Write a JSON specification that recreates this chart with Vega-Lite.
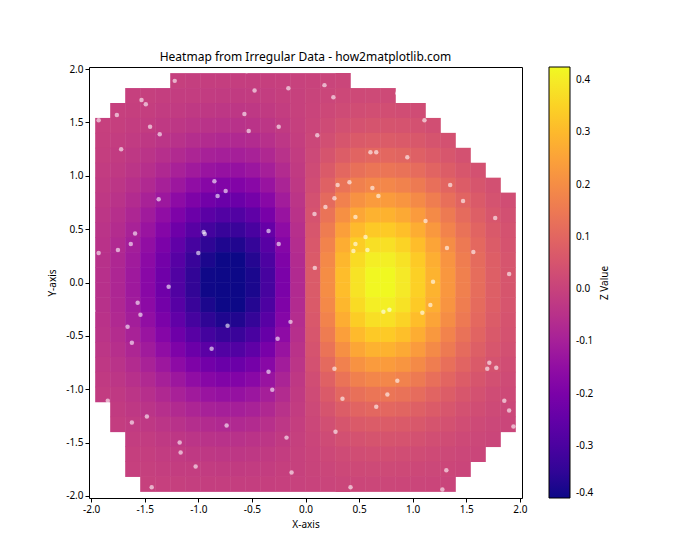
{"$schema":"https://vega.github.io/schema/vega-lite/v6.json","width":433,"height":431,"autosize":{"type":"none"},"padding":{"left":89,"top":67,"right":178,"bottom":62},"background":"white",
"title":{"text":"Heatmap from Irregular Data - how2matplotlib.com","fontSize":12,"fontWeight":"normal","font":"Noto Sans","anchor":"middle","offset":0,"color":"black"},
"config":{"view":{"stroke":"black","strokeWidth":1},"locale":{"number":{"decimal":".","thousands":",","grouping":[3],"currency":["$",""],"minus":"-"}},"axis":{"grid":false,"domain":false,"tickColor":"black","tickSize":4,"labelColor":"black","labelFont":"Noto Sans","labelFontSize":10,"titleFont":"Noto Sans","titleFontSize":10,"titleFontWeight":"normal","titleColor":"black","labelPadding":2},"legend":{"labelFont":"Noto Sans","labelFontSize":10,"labelColor":"black","titleFont":"Noto Sans","titleFontSize":10,"titleFontWeight":"normal","titleColor":"black"}},
"layer":[
{"data":{"values":[
{"x":-1.19,"y":1.89,"z":-0.008},{"x":-1.05,"y":1.89,"z":-0.01},{"x":-0.91,"y":1.89,"z":-0.011},{"x":-0.77,"y":1.89,"z":-0.012},{"x":-0.63,"y":1.89,"z":-0.012},{"x":-0.49,"y":1.89,"z":-0.011},{"x":-0.35,"y":1.89,"z":-0.009},{"x":-0.21,"y":1.89,"z":-0.006},{"x":-0.07,"y":1.89,"z":-0.002},{"x":0.07,"y":1.89,"z":0.002},{"x":0.21,"y":1.89,"z":0.006},{"x":0.35,"y":1.89,"z":0.009},
{"x":-1.61,"y":1.75,"z":-0.006},{"x":-1.47,"y":1.75,"z":-0.008},{"x":-1.33,"y":1.75,"z":-0.011},{"x":-1.19,"y":1.75,"z":-0.014},{"x":-1.05,"y":1.75,"z":-0.016},{"x":-0.91,"y":1.75,"z":-0.019},{"x":-0.77,"y":1.75,"z":-0.02},{"x":-0.63,"y":1.75,"z":-0.02},{"x":-0.49,"y":1.75,"z":-0.018},{"x":-0.35,"y":1.75,"z":-0.015},{"x":-0.21,"y":1.75,"z":-0.009},{"x":-0.07,"y":1.75,"z":-0.003},{"x":0.07,"y":1.75,"z":0.003},{"x":0.21,"y":1.75,"z":0.009},{"x":0.35,"y":1.75,"z":0.015},{"x":0.49,"y":1.75,"z":0.018},{"x":0.63,"y":1.75,"z":0.02},{"x":0.77,"y":1.75,"z":0.02},
{"x":-1.75,"y":1.61,"z":-0.006},{"x":-1.61,"y":1.61,"z":-0.009},{"x":-1.47,"y":1.61,"z":-0.013},{"x":-1.33,"y":1.61,"z":-0.017},{"x":-1.19,"y":1.61,"z":-0.022},{"x":-1.05,"y":1.61,"z":-0.026},{"x":-0.91,"y":1.61,"z":-0.03},{"x":-0.77,"y":1.61,"z":-0.032},{"x":-0.63,"y":1.61,"z":-0.032},{"x":-0.49,"y":1.61,"z":-0.029},{"x":-0.35,"y":1.61,"z":-0.023},{"x":-0.21,"y":1.61,"z":-0.015},{"x":-0.07,"y":1.61,"z":-0.005},{"x":0.07,"y":1.61,"z":0.005},{"x":0.21,"y":1.61,"z":0.015},{"x":0.35,"y":1.61,"z":0.023},{"x":0.49,"y":1.61,"z":0.029},{"x":0.63,"y":1.61,"z":0.032},{"x":0.77,"y":1.61,"z":0.032},{"x":0.91,"y":1.61,"z":0.03},{"x":1.05,"y":1.61,"z":0.026},
{"x":-1.89,"y":1.47,"z":-0.006},{"x":-1.75,"y":1.47,"z":-0.009},{"x":-1.61,"y":1.47,"z":-0.014},{"x":-1.47,"y":1.47,"z":-0.019},{"x":-1.33,"y":1.47,"z":-0.026},{"x":-1.19,"y":1.47,"z":-0.033},{"x":-1.05,"y":1.47,"z":-0.04},{"x":-0.91,"y":1.47,"z":-0.046},{"x":-0.77,"y":1.47,"z":-0.049},{"x":-0.63,"y":1.47,"z":-0.049},{"x":-0.49,"y":1.47,"z":-0.044},{"x":-0.35,"y":1.47,"z":-0.036},{"x":-0.21,"y":1.47,"z":-0.023},{"x":-0.07,"y":1.47,"z":-0.008},{"x":0.07,"y":1.47,"z":0.008},{"x":0.21,"y":1.47,"z":0.023},{"x":0.35,"y":1.47,"z":0.036},{"x":0.49,"y":1.47,"z":0.044},{"x":0.63,"y":1.47,"z":0.049},{"x":0.77,"y":1.47,"z":0.049},{"x":0.91,"y":1.47,"z":0.046},{"x":1.05,"y":1.47,"z":0.04},{"x":1.19,"y":1.47,"z":0.033},
{"x":-1.89,"y":1.33,"z":-0.009},{"x":-1.75,"y":1.33,"z":-0.014},{"x":-1.61,"y":1.33,"z":-0.021},{"x":-1.47,"y":1.33,"z":-0.029},{"x":-1.33,"y":1.33,"z":-0.039},{"x":-1.19,"y":1.33,"z":-0.049},{"x":-1.05,"y":1.33,"z":-0.06},{"x":-0.91,"y":1.33,"z":-0.068},{"x":-0.77,"y":1.33,"z":-0.073},{"x":-0.63,"y":1.33,"z":-0.072},{"x":-0.49,"y":1.33,"z":-0.066},{"x":-0.35,"y":1.33,"z":-0.053},{"x":-0.21,"y":1.33,"z":-0.034},{"x":-0.07,"y":1.33,"z":-0.012},{"x":0.07,"y":1.33,"z":0.012},{"x":0.21,"y":1.33,"z":0.034},{"x":0.35,"y":1.33,"z":0.053},{"x":0.49,"y":1.33,"z":0.066},{"x":0.63,"y":1.33,"z":0.072},{"x":0.77,"y":1.33,"z":0.073},{"x":0.91,"y":1.33,"z":0.068},{"x":1.05,"y":1.33,"z":0.06},{"x":1.19,"y":1.33,"z":0.049},{"x":1.33,"y":1.33,"z":0.039},
{"x":-1.89,"y":1.19,"z":-0.013},{"x":-1.75,"y":1.19,"z":-0.02},{"x":-1.61,"y":1.19,"z":-0.029},{"x":-1.47,"y":1.19,"z":-0.041},{"x":-1.33,"y":1.19,"z":-0.055},{"x":-1.19,"y":1.19,"z":-0.07},{"x":-1.05,"y":1.19,"z":-0.085},{"x":-0.91,"y":1.19,"z":-0.097},{"x":-0.77,"y":1.19,"z":-0.103},{"x":-0.63,"y":1.19,"z":-0.103},{"x":-0.49,"y":1.19,"z":-0.094},{"x":-0.35,"y":1.19,"z":-0.075},{"x":-0.21,"y":1.19,"z":-0.049},{"x":-0.07,"y":1.19,"z":-0.017},{"x":0.07,"y":1.19,"z":0.017},{"x":0.21,"y":1.19,"z":0.049},{"x":0.35,"y":1.19,"z":0.075},{"x":0.49,"y":1.19,"z":0.094},{"x":0.63,"y":1.19,"z":0.103},{"x":0.77,"y":1.19,"z":0.103},{"x":0.91,"y":1.19,"z":0.097},{"x":1.05,"y":1.19,"z":0.085},{"x":1.19,"y":1.19,"z":0.07},{"x":1.33,"y":1.19,"z":0.055},{"x":1.47,"y":1.19,"z":0.041},
{"x":-1.89,"y":1.05,"z":-0.018},{"x":-1.75,"y":1.05,"z":-0.027},{"x":-1.61,"y":1.05,"z":-0.04},{"x":-1.47,"y":1.05,"z":-0.056},{"x":-1.33,"y":1.05,"z":-0.075},{"x":-1.19,"y":1.05,"z":-0.096},{"x":-1.05,"y":1.05,"z":-0.116},{"x":-0.91,"y":1.05,"z":-0.132},{"x":-0.77,"y":1.05,"z":-0.141},{"x":-0.63,"y":1.05,"z":-0.141},{"x":-0.49,"y":1.05,"z":-0.128},{"x":-0.35,"y":1.05,"z":-0.103},{"x":-0.21,"y":1.05,"z":-0.067},{"x":-0.07,"y":1.05,"z":-0.023},{"x":0.07,"y":1.05,"z":0.023},{"x":0.21,"y":1.05,"z":0.067},{"x":0.35,"y":1.05,"z":0.103},{"x":0.49,"y":1.05,"z":0.128},{"x":0.63,"y":1.05,"z":0.141},{"x":0.77,"y":1.05,"z":0.141},{"x":0.91,"y":1.05,"z":0.132},{"x":1.05,"y":1.05,"z":0.116},{"x":1.19,"y":1.05,"z":0.096},{"x":1.33,"y":1.05,"z":0.075},{"x":1.47,"y":1.05,"z":0.056},{"x":1.61,"y":1.05,"z":0.04},
{"x":-1.89,"y":0.91,"z":-0.023},{"x":-1.75,"y":0.91,"z":-0.036},{"x":-1.61,"y":0.91,"z":-0.053},{"x":-1.47,"y":0.91,"z":-0.074},{"x":-1.33,"y":0.91,"z":-0.099},{"x":-1.19,"y":0.91,"z":-0.126},{"x":-1.05,"y":0.91,"z":-0.152},{"x":-0.91,"y":0.91,"z":-0.174},{"x":-0.77,"y":0.91,"z":-0.186},{"x":-0.63,"y":0.91,"z":-0.185},{"x":-0.49,"y":0.91,"z":-0.168},{"x":-0.35,"y":0.91,"z":-0.135},{"x":-0.21,"y":0.91,"z":-0.088},{"x":-0.07,"y":0.91,"z":-0.03},{"x":0.07,"y":0.91,"z":0.03},{"x":0.21,"y":0.91,"z":0.088},{"x":0.35,"y":0.91,"z":0.135},{"x":0.49,"y":0.91,"z":0.168},{"x":0.63,"y":0.91,"z":0.185},{"x":0.77,"y":0.91,"z":0.186},{"x":0.91,"y":0.91,"z":0.174},{"x":1.05,"y":0.91,"z":0.152},{"x":1.19,"y":0.91,"z":0.126},{"x":1.33,"y":0.91,"z":0.099},{"x":1.47,"y":0.91,"z":0.074},{"x":1.61,"y":0.91,"z":0.053},{"x":1.75,"y":0.91,"z":0.036},
{"x":-1.89,"y":0.77,"z":-0.029},{"x":-1.75,"y":0.77,"z":-0.045},{"x":-1.61,"y":0.77,"z":-0.067},{"x":-1.47,"y":0.77,"z":-0.094},{"x":-1.33,"y":0.77,"z":-0.125},{"x":-1.19,"y":0.77,"z":-0.16},{"x":-1.05,"y":0.77,"z":-0.193},{"x":-0.91,"y":0.77,"z":-0.22},{"x":-0.77,"y":0.77,"z":-0.235},{"x":-0.63,"y":0.77,"z":-0.234},{"x":-0.49,"y":0.77,"z":-0.213},{"x":-0.35,"y":0.77,"z":-0.171},{"x":-0.21,"y":0.77,"z":-0.111},{"x":-0.07,"y":0.77,"z":-0.039},{"x":0.07,"y":0.77,"z":0.039},{"x":0.21,"y":0.77,"z":0.111},{"x":0.35,"y":0.77,"z":0.171},{"x":0.49,"y":0.77,"z":0.213},{"x":0.63,"y":0.77,"z":0.234},{"x":0.77,"y":0.77,"z":0.235},{"x":0.91,"y":0.77,"z":0.22},{"x":1.05,"y":0.77,"z":0.193},{"x":1.19,"y":0.77,"z":0.16},{"x":1.33,"y":0.77,"z":0.125},{"x":1.47,"y":0.77,"z":0.094},{"x":1.61,"y":0.77,"z":0.067},{"x":1.75,"y":0.77,"z":0.045},{"x":1.89,"y":0.77,"z":0.029},
{"x":-1.89,"y":0.63,"z":-0.036},{"x":-1.75,"y":0.63,"z":-0.055},{"x":-1.61,"y":0.63,"z":-0.081},{"x":-1.47,"y":0.63,"z":-0.114},{"x":-1.33,"y":0.63,"z":-0.152},{"x":-1.19,"y":0.63,"z":-0.194},{"x":-1.05,"y":0.63,"z":-0.234},{"x":-0.91,"y":0.63,"z":-0.267},{"x":-0.77,"y":0.63,"z":-0.286},{"x":-0.63,"y":0.63,"z":-0.285},{"x":-0.49,"y":0.63,"z":-0.259},{"x":-0.35,"y":0.63,"z":-0.208},{"x":-0.21,"y":0.63,"z":-0.135},{"x":-0.07,"y":0.63,"z":-0.047},{"x":0.07,"y":0.63,"z":0.047},{"x":0.21,"y":0.63,"z":0.135},{"x":0.35,"y":0.63,"z":0.208},{"x":0.49,"y":0.63,"z":0.259},{"x":0.63,"y":0.63,"z":0.285},{"x":0.77,"y":0.63,"z":0.286},{"x":0.91,"y":0.63,"z":0.267},{"x":1.05,"y":0.63,"z":0.234},{"x":1.19,"y":0.63,"z":0.194},{"x":1.33,"y":0.63,"z":0.152},{"x":1.47,"y":0.63,"z":0.114},{"x":1.61,"y":0.63,"z":0.081},{"x":1.75,"y":0.63,"z":0.055},{"x":1.89,"y":0.63,"z":0.036},
{"x":-1.89,"y":0.49,"z":-0.042},{"x":-1.75,"y":0.49,"z":-0.064},{"x":-1.61,"y":0.49,"z":-0.095},{"x":-1.47,"y":0.49,"z":-0.133},{"x":-1.33,"y":0.49,"z":-0.178},{"x":-1.19,"y":0.49,"z":-0.227},{"x":-1.05,"y":0.49,"z":-0.274},{"x":-0.91,"y":0.49,"z":-0.313},{"x":-0.77,"y":0.49,"z":-0.335},{"x":-0.63,"y":0.49,"z":-0.333},{"x":-0.49,"y":0.49,"z":-0.303},{"x":-0.35,"y":0.49,"z":-0.244},{"x":-0.21,"y":0.49,"z":-0.158},{"x":-0.07,"y":0.49,"z":-0.055},{"x":0.07,"y":0.49,"z":0.055},{"x":0.21,"y":0.49,"z":0.158},{"x":0.35,"y":0.49,"z":0.244},{"x":0.49,"y":0.49,"z":0.303},{"x":0.63,"y":0.49,"z":0.333},{"x":0.77,"y":0.49,"z":0.335},{"x":0.91,"y":0.49,"z":0.313},{"x":1.05,"y":0.49,"z":0.274},{"x":1.19,"y":0.49,"z":0.227},{"x":1.33,"y":0.49,"z":0.178},{"x":1.47,"y":0.49,"z":0.133},{"x":1.61,"y":0.49,"z":0.095},{"x":1.75,"y":0.49,"z":0.064},{"x":1.89,"y":0.49,"z":0.042},
{"x":-1.89,"y":0.35,"z":-0.047},{"x":-1.75,"y":0.35,"z":-0.072},{"x":-1.61,"y":0.35,"z":-0.107},{"x":-1.47,"y":0.35,"z":-0.15},{"x":-1.33,"y":0.35,"z":-0.201},{"x":-1.19,"y":0.35,"z":-0.255},{"x":-1.05,"y":0.35,"z":-0.309},{"x":-0.91,"y":0.35,"z":-0.352},{"x":-0.77,"y":0.35,"z":-0.377},{"x":-0.63,"y":0.35,"z":-0.375},{"x":-0.49,"y":0.35,"z":-0.341},{"x":-0.35,"y":0.35,"z":-0.274},{"x":-0.21,"y":0.35,"z":-0.178},{"x":-0.07,"y":0.35,"z":-0.062},{"x":0.07,"y":0.35,"z":0.062},{"x":0.21,"y":0.35,"z":0.178},{"x":0.35,"y":0.35,"z":0.274},{"x":0.49,"y":0.35,"z":0.341},{"x":0.63,"y":0.35,"z":0.375},{"x":0.77,"y":0.35,"z":0.377},{"x":0.91,"y":0.35,"z":0.352},{"x":1.05,"y":0.35,"z":0.309},{"x":1.19,"y":0.35,"z":0.255},{"x":1.33,"y":0.35,"z":0.201},{"x":1.47,"y":0.35,"z":0.15},{"x":1.61,"y":0.35,"z":0.107},{"x":1.75,"y":0.35,"z":0.072},{"x":1.89,"y":0.35,"z":0.047},
{"x":-1.89,"y":0.21,"z":-0.051},{"x":-1.75,"y":0.21,"z":-0.078},{"x":-1.61,"y":0.21,"z":-0.115},{"x":-1.47,"y":0.21,"z":-0.162},{"x":-1.33,"y":0.21,"z":-0.217},{"x":-1.19,"y":0.21,"z":-0.276},{"x":-1.05,"y":0.21,"z":-0.334},{"x":-0.91,"y":0.21,"z":-0.381},{"x":-0.77,"y":0.21,"z":-0.407},{"x":-0.63,"y":0.21,"z":-0.405},{"x":-0.49,"y":0.21,"z":-0.369},{"x":-0.35,"y":0.21,"z":-0.296},{"x":-0.21,"y":0.21,"z":-0.192},{"x":-0.07,"y":0.21,"z":-0.067},{"x":0.07,"y":0.21,"z":0.067},{"x":0.21,"y":0.21,"z":0.192},{"x":0.35,"y":0.21,"z":0.296},{"x":0.49,"y":0.21,"z":0.369},{"x":0.63,"y":0.21,"z":0.405},{"x":0.77,"y":0.21,"z":0.407},{"x":0.91,"y":0.21,"z":0.381},{"x":1.05,"y":0.21,"z":0.334},{"x":1.19,"y":0.21,"z":0.276},{"x":1.33,"y":0.21,"z":0.217},{"x":1.47,"y":0.21,"z":0.162},{"x":1.61,"y":0.21,"z":0.115},{"x":1.75,"y":0.21,"z":0.078},{"x":1.89,"y":0.21,"z":0.051},
{"x":-1.89,"y":0.07,"z":-0.053},{"x":-1.75,"y":0.07,"z":-0.081},{"x":-1.61,"y":0.07,"z":-0.12},{"x":-1.47,"y":0.07,"z":-0.169},{"x":-1.33,"y":0.07,"z":-0.226},{"x":-1.19,"y":0.07,"z":-0.287},{"x":-1.05,"y":0.07,"z":-0.347},{"x":-0.91,"y":0.07,"z":-0.396},{"x":-0.77,"y":0.07,"z":-0.423},{"x":-0.63,"y":0.07,"z":-0.421},{"x":-0.49,"y":0.07,"z":-0.383},{"x":-0.35,"y":0.07,"z":-0.308},{"x":-0.21,"y":0.07,"z":-0.2},{"x":-0.07,"y":0.07,"z":-0.069},{"x":0.07,"y":0.07,"z":0.069},{"x":0.21,"y":0.07,"z":0.2},{"x":0.35,"y":0.07,"z":0.308},{"x":0.49,"y":0.07,"z":0.383},{"x":0.63,"y":0.07,"z":0.421},{"x":0.77,"y":0.07,"z":0.423},{"x":0.91,"y":0.07,"z":0.396},{"x":1.05,"y":0.07,"z":0.347},{"x":1.19,"y":0.07,"z":0.287},{"x":1.33,"y":0.07,"z":0.226},{"x":1.47,"y":0.07,"z":0.169},{"x":1.61,"y":0.07,"z":0.12},{"x":1.75,"y":0.07,"z":0.081},{"x":1.89,"y":0.07,"z":0.053},
{"x":-1.89,"y":-0.07,"z":-0.053},{"x":-1.75,"y":-0.07,"z":-0.081},{"x":-1.61,"y":-0.07,"z":-0.12},{"x":-1.47,"y":-0.07,"z":-0.169},{"x":-1.33,"y":-0.07,"z":-0.226},{"x":-1.19,"y":-0.07,"z":-0.287},{"x":-1.05,"y":-0.07,"z":-0.347},{"x":-0.91,"y":-0.07,"z":-0.396},{"x":-0.77,"y":-0.07,"z":-0.423},{"x":-0.63,"y":-0.07,"z":-0.421},{"x":-0.49,"y":-0.07,"z":-0.383},{"x":-0.35,"y":-0.07,"z":-0.308},{"x":-0.21,"y":-0.07,"z":-0.2},{"x":-0.07,"y":-0.07,"z":-0.069},{"x":0.07,"y":-0.07,"z":0.069},{"x":0.21,"y":-0.07,"z":0.2},{"x":0.35,"y":-0.07,"z":0.308},{"x":0.49,"y":-0.07,"z":0.383},{"x":0.63,"y":-0.07,"z":0.421},{"x":0.77,"y":-0.07,"z":0.423},{"x":0.91,"y":-0.07,"z":0.396},{"x":1.05,"y":-0.07,"z":0.347},{"x":1.19,"y":-0.07,"z":0.287},{"x":1.33,"y":-0.07,"z":0.226},{"x":1.47,"y":-0.07,"z":0.169},{"x":1.61,"y":-0.07,"z":0.12},{"x":1.75,"y":-0.07,"z":0.081},{"x":1.89,"y":-0.07,"z":0.053},
{"x":-1.89,"y":-0.21,"z":-0.051},{"x":-1.75,"y":-0.21,"z":-0.078},{"x":-1.61,"y":-0.21,"z":-0.115},{"x":-1.47,"y":-0.21,"z":-0.162},{"x":-1.33,"y":-0.21,"z":-0.217},{"x":-1.19,"y":-0.21,"z":-0.276},{"x":-1.05,"y":-0.21,"z":-0.334},{"x":-0.91,"y":-0.21,"z":-0.381},{"x":-0.77,"y":-0.21,"z":-0.407},{"x":-0.63,"y":-0.21,"z":-0.405},{"x":-0.49,"y":-0.21,"z":-0.369},{"x":-0.35,"y":-0.21,"z":-0.296},{"x":-0.21,"y":-0.21,"z":-0.192},{"x":-0.07,"y":-0.21,"z":-0.067},{"x":0.07,"y":-0.21,"z":0.067},{"x":0.21,"y":-0.21,"z":0.192},{"x":0.35,"y":-0.21,"z":0.296},{"x":0.49,"y":-0.21,"z":0.369},{"x":0.63,"y":-0.21,"z":0.405},{"x":0.77,"y":-0.21,"z":0.407},{"x":0.91,"y":-0.21,"z":0.381},{"x":1.05,"y":-0.21,"z":0.334},{"x":1.19,"y":-0.21,"z":0.276},{"x":1.33,"y":-0.21,"z":0.217},{"x":1.47,"y":-0.21,"z":0.162},{"x":1.61,"y":-0.21,"z":0.115},{"x":1.75,"y":-0.21,"z":0.078},{"x":1.89,"y":-0.21,"z":0.051},
{"x":-1.89,"y":-0.35,"z":-0.047},{"x":-1.75,"y":-0.35,"z":-0.072},{"x":-1.61,"y":-0.35,"z":-0.107},{"x":-1.47,"y":-0.35,"z":-0.15},{"x":-1.33,"y":-0.35,"z":-0.201},{"x":-1.19,"y":-0.35,"z":-0.255},{"x":-1.05,"y":-0.35,"z":-0.309},{"x":-0.91,"y":-0.35,"z":-0.352},{"x":-0.77,"y":-0.35,"z":-0.377},{"x":-0.63,"y":-0.35,"z":-0.375},{"x":-0.49,"y":-0.35,"z":-0.341},{"x":-0.35,"y":-0.35,"z":-0.274},{"x":-0.21,"y":-0.35,"z":-0.178},{"x":-0.07,"y":-0.35,"z":-0.062},{"x":0.07,"y":-0.35,"z":0.062},{"x":0.21,"y":-0.35,"z":0.178},{"x":0.35,"y":-0.35,"z":0.274},{"x":0.49,"y":-0.35,"z":0.341},{"x":0.63,"y":-0.35,"z":0.375},{"x":0.77,"y":-0.35,"z":0.377},{"x":0.91,"y":-0.35,"z":0.352},{"x":1.05,"y":-0.35,"z":0.309},{"x":1.19,"y":-0.35,"z":0.255},{"x":1.33,"y":-0.35,"z":0.201},{"x":1.47,"y":-0.35,"z":0.15},{"x":1.61,"y":-0.35,"z":0.107},{"x":1.75,"y":-0.35,"z":0.072},{"x":1.89,"y":-0.35,"z":0.047},
{"x":-1.89,"y":-0.49,"z":-0.042},{"x":-1.75,"y":-0.49,"z":-0.064},{"x":-1.61,"y":-0.49,"z":-0.095},{"x":-1.47,"y":-0.49,"z":-0.133},{"x":-1.33,"y":-0.49,"z":-0.178},{"x":-1.19,"y":-0.49,"z":-0.227},{"x":-1.05,"y":-0.49,"z":-0.274},{"x":-0.91,"y":-0.49,"z":-0.313},{"x":-0.77,"y":-0.49,"z":-0.335},{"x":-0.63,"y":-0.49,"z":-0.333},{"x":-0.49,"y":-0.49,"z":-0.303},{"x":-0.35,"y":-0.49,"z":-0.244},{"x":-0.21,"y":-0.49,"z":-0.158},{"x":-0.07,"y":-0.49,"z":-0.055},{"x":0.07,"y":-0.49,"z":0.055},{"x":0.21,"y":-0.49,"z":0.158},{"x":0.35,"y":-0.49,"z":0.244},{"x":0.49,"y":-0.49,"z":0.303},{"x":0.63,"y":-0.49,"z":0.333},{"x":0.77,"y":-0.49,"z":0.335},{"x":0.91,"y":-0.49,"z":0.313},{"x":1.05,"y":-0.49,"z":0.274},{"x":1.19,"y":-0.49,"z":0.227},{"x":1.33,"y":-0.49,"z":0.178},{"x":1.47,"y":-0.49,"z":0.133},{"x":1.61,"y":-0.49,"z":0.095},{"x":1.75,"y":-0.49,"z":0.064},{"x":1.89,"y":-0.49,"z":0.042},
{"x":-1.89,"y":-0.63,"z":-0.036},{"x":-1.75,"y":-0.63,"z":-0.055},{"x":-1.61,"y":-0.63,"z":-0.081},{"x":-1.47,"y":-0.63,"z":-0.114},{"x":-1.33,"y":-0.63,"z":-0.152},{"x":-1.19,"y":-0.63,"z":-0.194},{"x":-1.05,"y":-0.63,"z":-0.234},{"x":-0.91,"y":-0.63,"z":-0.267},{"x":-0.77,"y":-0.63,"z":-0.286},{"x":-0.63,"y":-0.63,"z":-0.285},{"x":-0.49,"y":-0.63,"z":-0.259},{"x":-0.35,"y":-0.63,"z":-0.208},{"x":-0.21,"y":-0.63,"z":-0.135},{"x":-0.07,"y":-0.63,"z":-0.047},{"x":0.07,"y":-0.63,"z":0.047},{"x":0.21,"y":-0.63,"z":0.135},{"x":0.35,"y":-0.63,"z":0.208},{"x":0.49,"y":-0.63,"z":0.259},{"x":0.63,"y":-0.63,"z":0.285},{"x":0.77,"y":-0.63,"z":0.286},{"x":0.91,"y":-0.63,"z":0.267},{"x":1.05,"y":-0.63,"z":0.234},{"x":1.19,"y":-0.63,"z":0.194},{"x":1.33,"y":-0.63,"z":0.152},{"x":1.47,"y":-0.63,"z":0.114},{"x":1.61,"y":-0.63,"z":0.081},{"x":1.75,"y":-0.63,"z":0.055},{"x":1.89,"y":-0.63,"z":0.036},
{"x":-1.89,"y":-0.77,"z":-0.029},{"x":-1.75,"y":-0.77,"z":-0.045},{"x":-1.61,"y":-0.77,"z":-0.067},{"x":-1.47,"y":-0.77,"z":-0.094},{"x":-1.33,"y":-0.77,"z":-0.125},{"x":-1.19,"y":-0.77,"z":-0.16},{"x":-1.05,"y":-0.77,"z":-0.193},{"x":-0.91,"y":-0.77,"z":-0.22},{"x":-0.77,"y":-0.77,"z":-0.235},{"x":-0.63,"y":-0.77,"z":-0.234},{"x":-0.49,"y":-0.77,"z":-0.213},{"x":-0.35,"y":-0.77,"z":-0.171},{"x":-0.21,"y":-0.77,"z":-0.111},{"x":-0.07,"y":-0.77,"z":-0.039},{"x":0.07,"y":-0.77,"z":0.039},{"x":0.21,"y":-0.77,"z":0.111},{"x":0.35,"y":-0.77,"z":0.171},{"x":0.49,"y":-0.77,"z":0.213},{"x":0.63,"y":-0.77,"z":0.234},{"x":0.77,"y":-0.77,"z":0.235},{"x":0.91,"y":-0.77,"z":0.22},{"x":1.05,"y":-0.77,"z":0.193},{"x":1.19,"y":-0.77,"z":0.16},{"x":1.33,"y":-0.77,"z":0.125},{"x":1.47,"y":-0.77,"z":0.094},{"x":1.61,"y":-0.77,"z":0.067},{"x":1.75,"y":-0.77,"z":0.045},{"x":1.89,"y":-0.77,"z":0.029},
{"x":-1.89,"y":-0.91,"z":-0.023},{"x":-1.75,"y":-0.91,"z":-0.036},{"x":-1.61,"y":-0.91,"z":-0.053},{"x":-1.47,"y":-0.91,"z":-0.074},{"x":-1.33,"y":-0.91,"z":-0.099},{"x":-1.19,"y":-0.91,"z":-0.126},{"x":-1.05,"y":-0.91,"z":-0.152},{"x":-0.91,"y":-0.91,"z":-0.174},{"x":-0.77,"y":-0.91,"z":-0.186},{"x":-0.63,"y":-0.91,"z":-0.185},{"x":-0.49,"y":-0.91,"z":-0.168},{"x":-0.35,"y":-0.91,"z":-0.135},{"x":-0.21,"y":-0.91,"z":-0.088},{"x":-0.07,"y":-0.91,"z":-0.03},{"x":0.07,"y":-0.91,"z":0.03},{"x":0.21,"y":-0.91,"z":0.088},{"x":0.35,"y":-0.91,"z":0.135},{"x":0.49,"y":-0.91,"z":0.168},{"x":0.63,"y":-0.91,"z":0.185},{"x":0.77,"y":-0.91,"z":0.186},{"x":0.91,"y":-0.91,"z":0.174},{"x":1.05,"y":-0.91,"z":0.152},{"x":1.19,"y":-0.91,"z":0.126},{"x":1.33,"y":-0.91,"z":0.099},{"x":1.47,"y":-0.91,"z":0.074},{"x":1.61,"y":-0.91,"z":0.053},{"x":1.75,"y":-0.91,"z":0.036},{"x":1.89,"y":-0.91,"z":0.023},
{"x":-1.89,"y":-1.05,"z":-0.018},{"x":-1.75,"y":-1.05,"z":-0.027},{"x":-1.61,"y":-1.05,"z":-0.04},{"x":-1.47,"y":-1.05,"z":-0.056},{"x":-1.33,"y":-1.05,"z":-0.075},{"x":-1.19,"y":-1.05,"z":-0.096},{"x":-1.05,"y":-1.05,"z":-0.116},{"x":-0.91,"y":-1.05,"z":-0.132},{"x":-0.77,"y":-1.05,"z":-0.141},{"x":-0.63,"y":-1.05,"z":-0.141},{"x":-0.49,"y":-1.05,"z":-0.128},{"x":-0.35,"y":-1.05,"z":-0.103},{"x":-0.21,"y":-1.05,"z":-0.067},{"x":-0.07,"y":-1.05,"z":-0.023},{"x":0.07,"y":-1.05,"z":0.023},{"x":0.21,"y":-1.05,"z":0.067},{"x":0.35,"y":-1.05,"z":0.103},{"x":0.49,"y":-1.05,"z":0.128},{"x":0.63,"y":-1.05,"z":0.141},{"x":0.77,"y":-1.05,"z":0.141},{"x":0.91,"y":-1.05,"z":0.132},{"x":1.05,"y":-1.05,"z":0.116},{"x":1.19,"y":-1.05,"z":0.096},{"x":1.33,"y":-1.05,"z":0.075},{"x":1.47,"y":-1.05,"z":0.056},{"x":1.61,"y":-1.05,"z":0.04},{"x":1.75,"y":-1.05,"z":0.027},{"x":1.89,"y":-1.05,"z":0.018},
{"x":-1.75,"y":-1.19,"z":-0.02},{"x":-1.61,"y":-1.19,"z":-0.029},{"x":-1.47,"y":-1.19,"z":-0.041},{"x":-1.33,"y":-1.19,"z":-0.055},{"x":-1.19,"y":-1.19,"z":-0.07},{"x":-1.05,"y":-1.19,"z":-0.085},{"x":-0.91,"y":-1.19,"z":-0.097},{"x":-0.77,"y":-1.19,"z":-0.103},{"x":-0.63,"y":-1.19,"z":-0.103},{"x":-0.49,"y":-1.19,"z":-0.094},{"x":-0.35,"y":-1.19,"z":-0.075},{"x":-0.21,"y":-1.19,"z":-0.049},{"x":-0.07,"y":-1.19,"z":-0.017},{"x":0.07,"y":-1.19,"z":0.017},{"x":0.21,"y":-1.19,"z":0.049},{"x":0.35,"y":-1.19,"z":0.075},{"x":0.49,"y":-1.19,"z":0.094},{"x":0.63,"y":-1.19,"z":0.103},{"x":0.77,"y":-1.19,"z":0.103},{"x":0.91,"y":-1.19,"z":0.097},{"x":1.05,"y":-1.19,"z":0.085},{"x":1.19,"y":-1.19,"z":0.07},{"x":1.33,"y":-1.19,"z":0.055},{"x":1.47,"y":-1.19,"z":0.041},{"x":1.61,"y":-1.19,"z":0.029},{"x":1.75,"y":-1.19,"z":0.02},{"x":1.89,"y":-1.19,"z":0.013},
{"x":-1.75,"y":-1.33,"z":-0.014},{"x":-1.61,"y":-1.33,"z":-0.021},{"x":-1.47,"y":-1.33,"z":-0.029},{"x":-1.33,"y":-1.33,"z":-0.039},{"x":-1.19,"y":-1.33,"z":-0.049},{"x":-1.05,"y":-1.33,"z":-0.06},{"x":-0.91,"y":-1.33,"z":-0.068},{"x":-0.77,"y":-1.33,"z":-0.073},{"x":-0.63,"y":-1.33,"z":-0.072},{"x":-0.49,"y":-1.33,"z":-0.066},{"x":-0.35,"y":-1.33,"z":-0.053},{"x":-0.21,"y":-1.33,"z":-0.034},{"x":-0.07,"y":-1.33,"z":-0.012},{"x":0.07,"y":-1.33,"z":0.012},{"x":0.21,"y":-1.33,"z":0.034},{"x":0.35,"y":-1.33,"z":0.053},{"x":0.49,"y":-1.33,"z":0.066},{"x":0.63,"y":-1.33,"z":0.072},{"x":0.77,"y":-1.33,"z":0.073},{"x":0.91,"y":-1.33,"z":0.068},{"x":1.05,"y":-1.33,"z":0.06},{"x":1.19,"y":-1.33,"z":0.049},{"x":1.33,"y":-1.33,"z":0.039},{"x":1.47,"y":-1.33,"z":0.029},{"x":1.61,"y":-1.33,"z":0.021},{"x":1.75,"y":-1.33,"z":0.014},{"x":1.89,"y":-1.33,"z":0.009},
{"x":-1.61,"y":-1.47,"z":-0.014},{"x":-1.47,"y":-1.47,"z":-0.019},{"x":-1.33,"y":-1.47,"z":-0.026},{"x":-1.19,"y":-1.47,"z":-0.033},{"x":-1.05,"y":-1.47,"z":-0.04},{"x":-0.91,"y":-1.47,"z":-0.046},{"x":-0.77,"y":-1.47,"z":-0.049},{"x":-0.63,"y":-1.47,"z":-0.049},{"x":-0.49,"y":-1.47,"z":-0.044},{"x":-0.35,"y":-1.47,"z":-0.036},{"x":-0.21,"y":-1.47,"z":-0.023},{"x":-0.07,"y":-1.47,"z":-0.008},{"x":0.07,"y":-1.47,"z":0.008},{"x":0.21,"y":-1.47,"z":0.023},{"x":0.35,"y":-1.47,"z":0.036},{"x":0.49,"y":-1.47,"z":0.044},{"x":0.63,"y":-1.47,"z":0.049},{"x":0.77,"y":-1.47,"z":0.049},{"x":0.91,"y":-1.47,"z":0.046},{"x":1.05,"y":-1.47,"z":0.04},{"x":1.19,"y":-1.47,"z":0.033},{"x":1.33,"y":-1.47,"z":0.026},{"x":1.47,"y":-1.47,"z":0.019},{"x":1.61,"y":-1.47,"z":0.014},{"x":1.75,"y":-1.47,"z":0.009},
{"x":-1.61,"y":-1.61,"z":-0.009},{"x":-1.47,"y":-1.61,"z":-0.013},{"x":-1.33,"y":-1.61,"z":-0.017},{"x":-1.19,"y":-1.61,"z":-0.022},{"x":-1.05,"y":-1.61,"z":-0.026},{"x":-0.91,"y":-1.61,"z":-0.03},{"x":-0.77,"y":-1.61,"z":-0.032},{"x":-0.63,"y":-1.61,"z":-0.032},{"x":-0.49,"y":-1.61,"z":-0.029},{"x":-0.35,"y":-1.61,"z":-0.023},{"x":-0.21,"y":-1.61,"z":-0.015},{"x":-0.07,"y":-1.61,"z":-0.005},{"x":0.07,"y":-1.61,"z":0.005},{"x":0.21,"y":-1.61,"z":0.015},{"x":0.35,"y":-1.61,"z":0.023},{"x":0.49,"y":-1.61,"z":0.029},{"x":0.63,"y":-1.61,"z":0.032},{"x":0.77,"y":-1.61,"z":0.032},{"x":0.91,"y":-1.61,"z":0.03},{"x":1.05,"y":-1.61,"z":0.026},{"x":1.19,"y":-1.61,"z":0.022},{"x":1.33,"y":-1.61,"z":0.017},{"x":1.47,"y":-1.61,"z":0.013},{"x":1.61,"y":-1.61,"z":0.009},
{"x":-1.61,"y":-1.75,"z":-0.006},{"x":-1.47,"y":-1.75,"z":-0.008},{"x":-1.33,"y":-1.75,"z":-0.011},{"x":-1.19,"y":-1.75,"z":-0.014},{"x":-1.05,"y":-1.75,"z":-0.016},{"x":-0.91,"y":-1.75,"z":-0.019},{"x":-0.77,"y":-1.75,"z":-0.02},{"x":-0.63,"y":-1.75,"z":-0.02},{"x":-0.49,"y":-1.75,"z":-0.018},{"x":-0.35,"y":-1.75,"z":-0.015},{"x":-0.21,"y":-1.75,"z":-0.009},{"x":-0.07,"y":-1.75,"z":-0.003},{"x":0.07,"y":-1.75,"z":0.003},{"x":0.21,"y":-1.75,"z":0.009},{"x":0.35,"y":-1.75,"z":0.015},{"x":0.49,"y":-1.75,"z":0.018},{"x":0.63,"y":-1.75,"z":0.02},{"x":0.77,"y":-1.75,"z":0.02},{"x":0.91,"y":-1.75,"z":0.019},{"x":1.05,"y":-1.75,"z":0.016},{"x":1.19,"y":-1.75,"z":0.014},{"x":1.33,"y":-1.75,"z":0.011},{"x":1.47,"y":-1.75,"z":0.008},
{"x":-1.47,"y":-1.89,"z":-0.005},{"x":-1.33,"y":-1.89,"z":-0.006},{"x":-1.19,"y":-1.89,"z":-0.008},{"x":-1.05,"y":-1.89,"z":-0.01},{"x":-0.91,"y":-1.89,"z":-0.011},{"x":-0.77,"y":-1.89,"z":-0.012},{"x":-0.63,"y":-1.89,"z":-0.012},{"x":-0.49,"y":-1.89,"z":-0.011},{"x":-0.35,"y":-1.89,"z":-0.009},{"x":-0.21,"y":-1.89,"z":-0.006},{"x":-0.07,"y":-1.89,"z":-0.002},{"x":0.07,"y":-1.89,"z":0.002},{"x":0.21,"y":-1.89,"z":0.006},{"x":0.35,"y":-1.89,"z":0.009},{"x":0.49,"y":-1.89,"z":0.011},{"x":0.63,"y":-1.89,"z":0.012},{"x":0.77,"y":-1.89,"z":0.012},{"x":0.91,"y":-1.89,"z":0.011},{"x":1.05,"y":-1.89,"z":0.01},{"x":1.19,"y":-1.89,"z":0.008},{"x":1.33,"y":-1.89,"z":0.006}
]},
"mark":{"type":"rect","width":15.5,"height":15.5},
"encoding":{
"x":{"field":"x","type":"quantitative","scale":{"domain":[-2.02,2.02],"nice":false,"zero":false},"axis":{"values":[-2,-1.5,-1,-0.5,0,0.5,1,1.5,2],"format":".1f","title":"X-axis","titlePadding":5}},
"y":{"field":"y","type":"quantitative","scale":{"domain":[-2.02,2.02],"nice":false,"zero":false},"axis":{"values":[-2,-1.5,-1,-0.5,0,0.5,1,1.5,2],"format":".1f","title":"Y-axis","titlePadding":8}},
"color":{"field":"z","type":"quantitative","scale":{"scheme":"plasma","domain":[-0.4,0.425],"clamp":true,"nice":false,"zero":false},"legend":{"orient":"none","legendX":460,"legendY":0,"direction":"vertical","title":"Z Value","titleOrient":"right","titleAnchor":"middle","titleBaseline":"middle","titlePadding":12,"gradientLength":431,"gradientThickness":21,"gradientStrokeColor":"black","gradientStrokeWidth":1,"values":[-0.4,-0.3,-0.2,-0.1,0,0.1,0.2,0.3,0.4],"format":".1f","labelOffset":6,"padding":0,"encoding":{"title":{"angle":{"value":270}}}}}}},
{"data":{"values":[
{"x":-1.93,"y":1.52},{"x":-1.76,"y":1.57},{"x":-1.53,"y":1.71},{"x":-1.49,"y":1.67},{"x":-1.22,"y":1.89},{"x":-1.45,"y":1.46},{"x":-1.36,"y":1.39},{"x":-1.72,"y":1.25},{"x":-0.55,"y":1.98},{"x":-0.475,"y":1.8},{"x":-0.16,"y":1.82},{"x":-0.57,"y":1.58},{"x":-0.53,"y":1.42},{"x":-0.25,"y":1.46},{"x":-0.85,"y":0.95},{"x":-0.745,"y":0.857},{"x":-0.82,"y":0.81},{"x":-1.37,"y":0.78},{"x":-0.95,"y":0.473},{"x":-0.94,"y":0.455},{"x":-0.345,"y":0.483},{"x":-0.25,"y":0.36},{"x":-1.59,"y":0.46},{"x":-1.63,"y":0.36},{"x":-1.75,"y":0.305},{"x":-1.93,"y":0.277},{"x":-1.0,"y":0.277},
{"x":0.177,"y":1.85},{"x":0.26,"y":1.736},{"x":0.857,"y":1.773},{"x":1.11,"y":1.52},{"x":0.11,"y":1.38},{"x":0.606,"y":1.22},{"x":0.66,"y":1.22},{"x":0.95,"y":1.175},{"x":0.3,"y":0.913},{"x":0.41,"y":0.94},{"x":0.624,"y":0.885},{"x":0.68,"y":0.81},{"x":1.35,"y":0.913},{"x":0.27,"y":0.79},{"x":1.47,"y":0.763},{"x":0.186,"y":0.707},{"x":0.084,"y":0.642},{"x":0.466,"y":0.614},{"x":1.77,"y":0.604},{"x":1.12,"y":0.576},{"x":0.56,"y":0.427},{"x":0.466,"y":0.361},{"x":0.447,"y":0.296},{"x":0.578,"y":0.305},{"x":1.32,"y":0.324},{"x":1.566,"y":0.286},{"x":0.087,"y":0.137},{"x":1.9,"y":0.08},{"x":1.19,"y":0.006},
{"x":-1.277,"y":-0.04},{"x":-1.566,"y":-0.19},{"x":-1.98,"y":-0.266},{"x":-1.54,"y":-0.303},{"x":-1.66,"y":-0.415},{"x":-0.727,"y":-0.406},{"x":-0.14,"y":-0.369},{"x":-0.26,"y":-0.528},{"x":-1.62,"y":-0.565},{"x":-0.876,"y":-0.62},{"x":-0.345,"y":-0.836},{"x":-0.31,"y":-1.005},{"x":-1.845,"y":-1.108},{"x":-1.48,"y":-1.257},{"x":-1.62,"y":-1.313},{"x":-0.736,"y":-1.34},{"x":-0.177,"y":-1.454},{"x":-1.174,"y":-1.5},{"x":-1.165,"y":-1.594},{"x":-1.025,"y":-1.725},{"x":-0.13,"y":-1.78},{"x":-1.435,"y":-1.92},
{"x":0.727,"y":-0.275},{"x":0.783,"y":-0.256},{"x":1.09,"y":-0.284},{"x":1.165,"y":-0.21},{"x":0.27,"y":-0.808},{"x":1.715,"y":-0.752},{"x":1.696,"y":-0.808},{"x":1.78,"y":-0.8},{"x":0.857,"y":-0.92},{"x":0.764,"y":-1.05},{"x":0.345,"y":-1.09},{"x":0.66,"y":-1.164},{"x":1.855,"y":-1.108},{"x":1.9,"y":-1.2},{"x":1.94,"y":-1.35},{"x":0.28,"y":-1.4},{"x":1.314,"y":-1.76},{"x":0.42,"y":-1.92},{"x":1.277,"y":-1.94}
]},
"mark":{"type":"point","filled":true,"color":"white","opacity":0.6,"size":20},
"encoding":{"x":{"field":"x","type":"quantitative"},"y":{"field":"y","type":"quantitative"}}}
]}
